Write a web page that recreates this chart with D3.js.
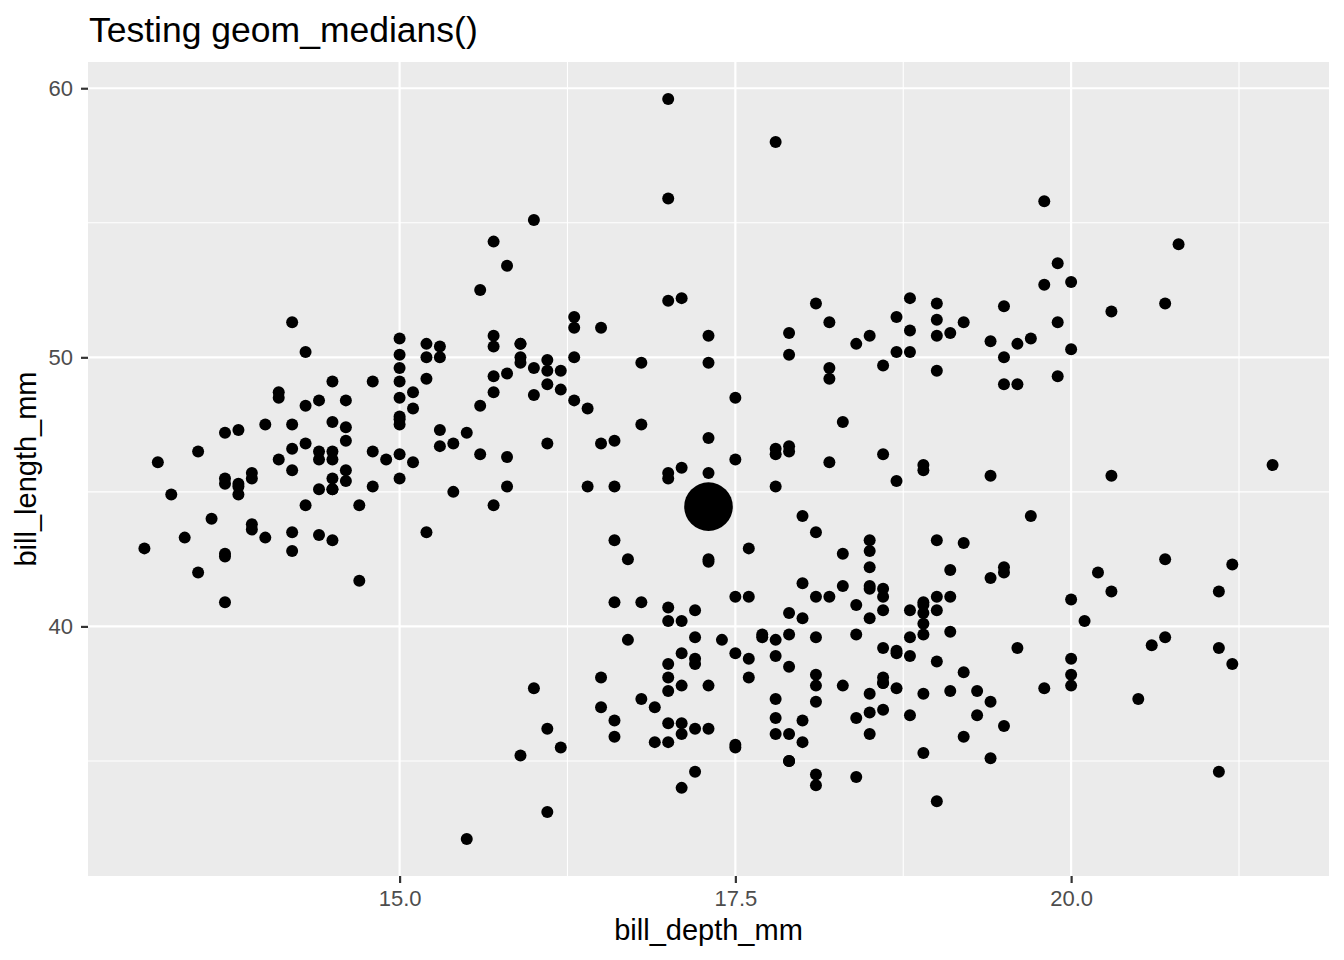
<!DOCTYPE html>
<html>
<head>
<meta charset="utf-8">
<script src="https://cdn.jsdelivr.net/npm/d3@7"></script>
<style>
  body { margin: 0; background: #fff; }
  text { font-family: "Liberation Sans", Arial, sans-serif; }
</style>
</head>
<body>
<div id="chart"></div>
<script>
// penguins: bill depth (x) and bill length (y), one pair per bird
var adelieDepth = [18.7,17.4,18.0,19.3,20.6,17.8,19.6,18.1,20.2,17.1,17.3,17.6,21.2,21.1,17.8,19.0,20.7,18.4,21.5,18.3,18.7,19.2,18.1,17.2,18.9,18.6,17.9,18.6,18.9,16.7,18.1,17.8,18.9,17.0,21.1,20.0,18.5,19.3,19.1,18.0,18.4,18.5,19.7,16.9,18.8,19.0,18.9,17.9,21.2,17.7,18.9,17.9,19.5,18.1,18.6,17.5,18.8,16.6,19.1,16.9,21.1,17.0,18.2,17.1,18.0,16.2,19.1,16.6,19.4,19.0,18.4,17.2,18.9,17.5,18.5,16.8,19.4,16.1,19.1,17.2,17.6,18.8,19.4,17.8,20.3,19.5,18.6,19.2,18.8,18.0,18.1,17.1,18.1,17.3,18.9,18.6,18.5,16.1,18.5,17.9,20.0,16.0,20.0,18.6,18.9,17.2,20.0,17.0,19.0,16.5,20.3,17.7,19.5,20.7,18.3,17.0,20.5,17.0,18.6,17.2,19.8,17.0,18.5,15.9,19.0,17.6,18.3,17.1,18.0,17.9,19.2,18.5,18.5,17.6,17.5,17.5,20.1,16.5,17.9,17.1,17.2,15.5,17.0,16.8,18.7,18.6,18.4,17.8,18.1,17.1,18.5];
var adelieLength = [39.1,39.5,40.3,36.7,39.3,38.9,39.2,34.1,42.0,37.8,37.8,41.1,38.6,34.6,36.6,38.7,42.5,34.4,46.0,37.8,37.7,35.9,38.2,38.8,35.3,40.6,40.5,37.9,40.5,39.5,37.2,39.5,40.9,36.4,39.2,38.8,42.2,37.6,39.8,36.5,40.8,36.0,44.1,37.0,39.6,41.1,37.5,36.0,42.3,39.6,40.1,35.0,42.0,34.5,41.4,39.0,40.6,36.5,37.6,35.7,41.3,37.6,41.1,36.4,41.6,35.5,41.1,35.9,41.8,33.5,39.7,39.6,45.8,35.5,42.8,40.9,37.2,36.2,42.1,34.6,42.9,36.7,35.1,37.3,41.3,36.3,36.9,38.3,38.9,35.7,41.1,34.0,39.6,36.2,40.8,38.1,40.3,33.1,43.2,35.0,41.0,37.7,37.8,37.9,39.7,38.6,38.2,38.1,43.2,38.1,45.6,39.7,42.2,39.6,42.7,38.6,37.3,35.7,41.1,36.2,37.7,40.2,41.4,35.2,40.6,38.8,41.5,39.0,44.1,38.5,43.1,36.8,37.5,38.1,41.1,35.6,40.2,37.0,39.7,40.2,40.6,32.1,40.7,37.3,39.0,39.2,36.6,36.0,37.8,36.0,41.5];

var gentooDepth = [13.2,16.3,14.1,15.2,14.5,13.5,14.6,15.3,13.4,15.4,13.7,16.1,13.7,14.6,14.6,15.7,13.5,15.2,14.5,15.1,14.3,14.5,14.5,15.8,13.1,15.1,14.3,15.0,14.3,15.3,15.3,14.2,14.5,17.0,14.8,16.3,13.7,17.3,13.6,15.7,13.7,16.0,13.7,15.0,15.9,13.9,13.9,15.9,13.3,15.8,14.2,14.1,14.4,15.0,14.4,15.4,13.9,15.0,14.5,15.3,13.8,14.9,13.9,15.7,14.2,16.8,14.4,16.2,14.2,15.0,15.0,15.6,15.6,14.8,15.0,16.0,14.2,16.3,13.8,16.4,14.5,15.6,14.6,15.9,13.8,17.3,14.4,14.2,14.0,17.0,15.0,17.1,14.5,16.1,14.7,15.7,15.8,14.6,14.4,16.5,15.0,17.0,15.5,15.0,13.8,16.1,14.7,15.8,14.0,15.1,15.2,15.9,15.2,16.3,14.1,16.0,15.7,16.2,13.7,14.3,15.7,14.8,16.1];
var gentooLength = [46.1,50.0,48.7,50.0,47.6,46.5,45.4,46.7,43.3,46.8,40.9,49.0,45.5,48.4,45.8,49.3,42.0,49.2,46.2,48.7,50.2,45.1,46.5,46.3,42.9,46.1,44.5,47.8,48.2,50.0,47.3,42.8,45.1,59.6,49.1,48.4,42.6,44.4,44.0,48.7,42.7,49.6,45.3,49.6,50.5,43.6,45.5,50.5,44.9,45.2,46.6,48.5,45.1,50.1,46.5,45.0,43.8,45.5,43.2,50.4,45.3,46.2,45.7,54.3,45.8,49.8,46.2,49.5,43.5,50.7,47.7,46.4,48.2,46.5,46.4,48.6,47.5,51.1,45.2,45.2,49.1,52.5,47.4,50.0,44.9,50.8,43.4,51.3,47.5,52.1,47.5,52.2,45.5,49.5,44.5,50.8,49.4,46.9,48.4,51.1,48.5,55.9,47.2,49.1,47.3,46.8,41.7,53.4,43.3,48.1,50.5,49.8,43.5,51.5,46.2,55.1,44.5,48.8,47.2,46.8,50.4,45.2,49.9];

var chinstrapDepth = [17.9,19.5,19.2,18.7,19.8,17.8,18.2,18.2,18.9,19.9,17.8,20.3,17.3,18.1,17.1,19.6,20.0,17.8,18.6,18.2,17.3,17.5,16.6,19.4,17.9,19.0,18.4,19.0,17.8,20.0,16.6,20.8,16.7,18.8,18.6,16.8,18.3,20.7,16.6,19.9,19.5,17.5,19.1,17.0,17.9,18.5,17.9,19.6,18.7,17.3,16.4,19.0,17.3,19.7,17.3,18.8,16.6,19.9,18.8,19.4,19.5,16.5,17.0,19.8,18.1,18.2,19.0,18.7];
var chinstrapLength = [46.5,50.0,51.3,45.4,52.7,45.2,46.1,51.3,46.0,51.3,46.6,51.7,47.0,52.0,45.9,50.5,50.3,58.0,46.4,49.2,42.4,48.5,43.2,50.6,46.7,52.0,50.5,49.5,46.4,52.8,40.9,54.2,42.5,51.0,49.7,47.5,47.6,52.0,46.9,53.5,49.0,46.2,50.9,45.5,50.9,50.8,50.1,49.0,51.5,49.8,48.1,51.4,45.7,50.7,42.5,52.2,45.2,49.3,50.2,45.6,51.9,46.8,45.7,55.8,43.5,49.6,50.8,50.2];

var xTicks = [15.0, 17.5, 20.0];
var yTicks = [40, 50, 60];
var titleText = "Testing geom_medians()";

var depth = adelieDepth.concat(gentooDepth, chinstrapDepth);
var length = adelieLength.concat(gentooLength, chinstrapLength);
var data = depth.map(function(d, i) { return {x: d, y: length[i]}; });

// panel placement
var W = 1344, H = 960;
var margin = {top: 62, right: 15, bottom: 84, left: 88};
var width = W - margin.left - margin.right,
    height = H - margin.top - margin.bottom;

var svg = d3.select("#chart").append("svg")
    .attr("width", W)
    .attr("height", H);

var g = svg.append("g")
    .attr("transform", "translate(" + margin.left + "," + margin.top + ")");

// ggplot style 5% expansion
function expand(ext) {
    var r = ext[1] - ext[0];
    return [ext[0] - r * 0.05, ext[1] + r * 0.05];
}
var x = d3.scaleLinear().domain(expand(d3.extent(data, function(d) { return d.x; }))).range([0, width]);
var y = d3.scaleLinear().domain(expand(d3.extent(data, function(d) { return d.y; }))).range([height, 0]);

g.append("rect")
    .attr("width", width)
    .attr("height", height)
    .attr("fill", "#ebebeb");

// minor grid between majors
var xMinor = [12.5, 16.25, 18.75, 21.25];
var yMinor = [35, 45, 55];
g.selectAll(".xminor").data(xMinor).enter().append("line")
    .attr("x1", function(d) { return x(d); }).attr("x2", function(d) { return x(d); })
    .attr("y1", 0).attr("y2", height)
    .attr("stroke", "#fff").attr("stroke-width", 1.1);
g.selectAll(".yminor").data(yMinor).enter().append("line")
    .attr("y1", function(d) { return y(d); }).attr("y2", function(d) { return y(d); })
    .attr("x1", 0).attr("x2", width)
    .attr("stroke", "#fff").attr("stroke-width", 1.1);

g.selectAll(".xmajor").data(xTicks).enter().append("line")
    .attr("x1", function(d) { return x(d); }).attr("x2", function(d) { return x(d); })
    .attr("y1", 0).attr("y2", height)
    .attr("stroke", "#fff").attr("stroke-width", 2.2);
g.selectAll(".ymajor").data(yTicks).enter().append("line")
    .attr("y1", function(d) { return y(d); }).attr("y2", function(d) { return y(d); })
    .attr("x1", 0).attr("x2", width)
    .attr("stroke", "#fff").attr("stroke-width", 2.2);

// axes
var xAxis = g.append("g")
    .attr("transform", "translate(0," + height + ")")
    .call(d3.axisBottom(x).tickValues(xTicks).tickFormat(d3.format(".1f")).tickSize(7).tickPadding(7));
var yAxis = g.append("g")
    .call(d3.axisLeft(y).tickValues(yTicks).tickFormat(d3.format("d")).tickSize(7).tickPadding(8));
[xAxis, yAxis].forEach(function(a) {
    a.select(".domain").remove();
    a.selectAll("line").attr("stroke", "#333").attr("stroke-width", 2.2);
    a.selectAll("text").attr("fill", "#4d4d4d").style("font-size", "22px")
        .style("font-family", "'Liberation Sans', Arial, sans-serif");
});

// points
g.selectAll(".pt").data(data).enter().append("circle")
    .attr("cx", function(d) { return x(d.x); })
    .attr("cy", function(d) { return y(d.y); })
    .attr("r", 6)
    .attr("fill", "#000");

// median point
var med = {x: d3.median(depth), y: d3.median(length)};
g.append("circle")
    .attr("cx", x(med.x))
    .attr("cy", y(med.y))
    .attr("r", 24.3)
    .attr("fill", "#000");

// titles
svg.append("text")
    .attr("x", 89)
    .attr("y", 42)
    .style("font-size", "35.5px")
    .attr("fill", "#000")
    .text(titleText);

svg.append("text")
    .attr("x", margin.left + width / 2)
    .attr("y", 940)
    .attr("text-anchor", "middle")
    .style("font-size", "29px")
    .text("bill_depth_mm");

svg.append("text")
    .attr("transform", "translate(36," + (margin.top + height / 2) + ") rotate(-90)")
    .attr("text-anchor", "middle")
    .style("font-size", "29px")
    .text("bill_length_mm");
</script>
</body>
</html>
